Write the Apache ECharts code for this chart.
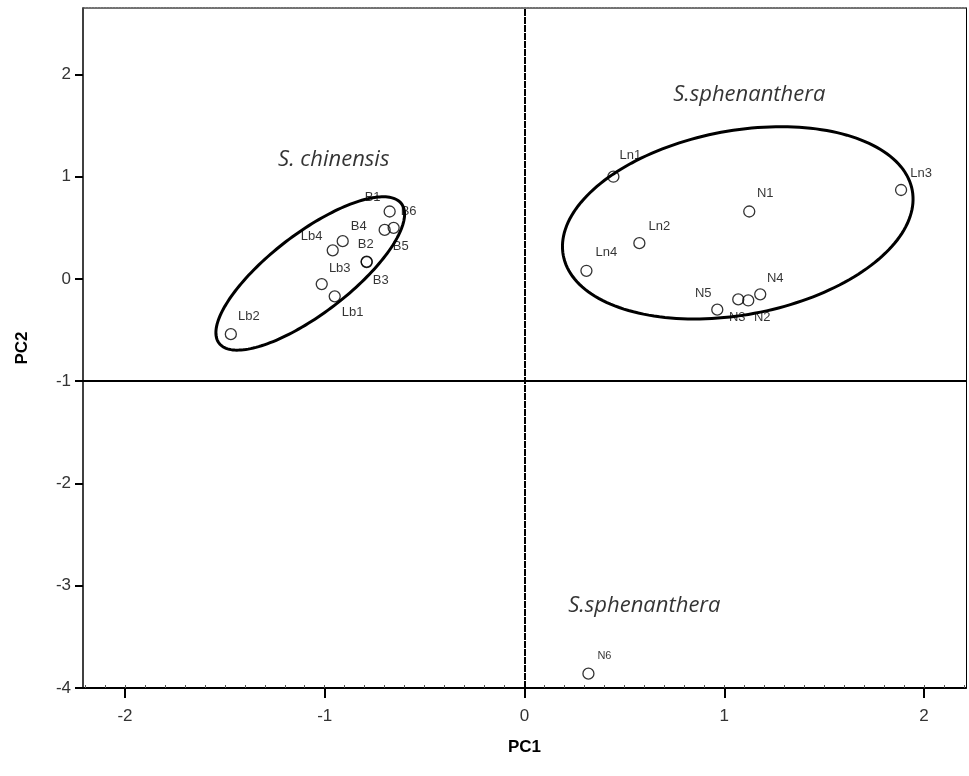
<!DOCTYPE html>
<html><head><meta charset="utf-8">
<script src="https://cdn.jsdelivr.net/npm/echarts@6/dist/echarts.min.js"></script>
<style>html,body{margin:0;padding:0;background:#fff}#c{width:969px;height:776px}</style>
</head><body><div id="c"></div>
<script>
// ---- data ----
const names = ['B1','B2','B3','B4','B5','B6','Lb1','Lb2','Lb3','Lb4','Ln1','Ln2','Ln3','Ln4','N1','N2','N3','N4','N5','N6'];
const pc1 = [-0.675,-0.79,-0.79,-0.91,-0.70,-0.655,-0.95,-1.47,-1.015,-0.96,0.445,0.575,1.885,0.31,1.125,1.12,1.07,1.18,0.965,0.32];
const pc2 = [0.66,0.17,0.165,0.37,0.48,0.50,-0.17,-0.54,-0.05,0.28,1.00,0.35,0.87,0.08,0.66,-0.21,-0.20,-0.15,-0.30,-3.86];
const xTicks = [-2,-1,0,1,2];
const yTicks = [-4,-3,-2,-1,0,1,2];
// group ellipses: centre, major half-axis vector, minor half-axis vector (data units)
const ellipseCenters = [[-1.0725,0.054],[1.0675,0.549]];
const ellipseMajor = [[0.4565,0.682],[0.8735,0.3176]];
const ellipseMinor = [[0.121,-0.312],[0.0836,-0.885]];
const groupNames = ['S. chinensis','S.sphenanthera','S.sphenanthera'];
const groupX = [-0.955,1.125,0.60];
const groupY = [1.17,1.80,-3.196];
const refX = 0, refY = -1;

// ---- styles (label offsets in px) ----
const labelOffset = {
  B1:[-17,-14],B2:[-1,-17],B3:[14,18],B4:[16,-15],B5:[16,17],B6:[15,-16],
  Lb1:[18,16],Lb2:[18,-18],Lb3:[18,-16],Lb4:[-21,-14],
  Ln1:[17,-21],Ln2:[20,-17],Ln3:[20,-17],Ln4:[20,-18],
  N1:[16,-18],N2:[14,17],N3:[-1,18],N4:[15,-16],N5:[-14,-16],N6:[16,-18]
};
const FONT = "'Liberation Sans', Arial, sans-serif";
const minorVals = [];
for (let i = -22; i <= 22; i++) minorVals.push(i / 10);

const points = names.map((n, i) => ({
  name: n, value: [pc1[i], pc2[i]],
  label: { offset: labelOffset[n], fontSize: n === 'N6' ? 11 : 13 }
}));

const chart = echarts.init(document.getElementById('c'), null, {renderer: 'canvas'});
chart.setOption({
  animation: false,
  backgroundColor: '#fff',
  grid: { left: 83, right: 3, top: 8, bottom: 88, show: false },
  xAxis: [{
    type: 'value', min: -2.21, max: 2.21,
    name: 'PC1', nameLocation: 'middle', nameGap: 51,
    nameTextStyle: { fontFamily: FONT, fontSize: 17, fontWeight: 'bold', color: '#000' },
    axisLine: { show: true, onZero: false, lineStyle: { color: '#000', width: 2 } },
    axisTick: { show: true, customValues: xTicks, length: 10, lineStyle: { color: '#000', width: 2 } },
    axisLabel: { customValues: xTicks, margin: 20, fontFamily: FONT, fontSize: 17, color: '#333' },
    splitLine: { show: false }
  }, {
    type: 'value', min: -2.21, max: 2.21, position: 'bottom',
    axisLine: { show: false, onZero: false }, axisLabel: { show: false },
    axisTick: { show: true, inside: true, customValues: minorVals, length: 3, lineStyle: { color: '#555', width: 1 } },
    splitLine: { show: false }
  }, {
    type: 'value', min: -2.21, max: 2.21, position: 'top',
    axisLine: { show: true, onZero: false, lineStyle: { color: '#444', width: 1.5, type: [2, 1] } },
    axisLabel: { show: false }, axisTick: { show: false }, splitLine: { show: false }
  }],
  yAxis: [{
    type: 'value', min: -4, max: 2.65,
    name: 'PC2', nameLocation: 'middle', nameGap: 52,
    nameTextStyle: { fontFamily: FONT, fontSize: 17, fontWeight: 'bold', color: '#000' },
    axisLine: { show: true, onZero: false, lineStyle: { color: '#000', width: 1.5 } },
    axisTick: { show: true, customValues: yTicks, length: 8, lineStyle: { color: '#000', width: 2 } },
    axisLabel: { customValues: yTicks, margin: 12, fontFamily: FONT, fontSize: 17, color: '#333' },
    splitLine: { show: false }
  }, {
    type: 'value', min: -4, max: 2.65, position: 'right',
    axisLine: { show: true, onZero: false, lineStyle: { color: '#000', width: 1 } },
    axisLabel: { show: false }, axisTick: { show: false }, splitLine: { show: false }
  }],
  series: [{
    type: 'custom',
    silent: true,
    data: ellipseCenters.map((c, i) => [c[0], c[1], ellipseMajor[i][0], ellipseMajor[i][1], ellipseMinor[i][0], ellipseMinor[i][1]]),
    renderItem: function (params, api) {
      const cx = api.value(0), cy = api.value(1);
      const ux = api.value(2), uy = api.value(3), vx = api.value(4), vy = api.value(5);
      const pts = [];
      for (let k = 0; k < 180; k++) {
        const t = k / 180 * Math.PI * 2;
        pts.push(api.coord([cx + ux * Math.cos(t) + vx * Math.sin(t), cy + uy * Math.cos(t) + vy * Math.sin(t)]));
      }
      return { type: 'polygon', shape: { points: pts }, style: { fill: 'none', stroke: '#000', lineWidth: 3 } };
    },
    z: 3
  }, {
    type: 'scatter',
    symbol: 'circle', symbolSize: 11,
    itemStyle: { color: 'rgba(255,255,255,0)', borderColor: '#000', borderWidth: 1.3 },
    label: { show: true, formatter: '{b}', position: 'inside', fontFamily: FONT, color: '#000' },
    data: points,
    markLine: {
      silent: true, symbol: 'none', label: { show: false },
      data: [
        { xAxis: refX, lineStyle: { color: '#000', width: 2, type: [7, 1] } },
        { yAxis: refY, lineStyle: { color: '#000', width: 2, type: 'solid' } }
      ]
    },
    z: 4
  }, {
    type: 'scatter', symbolSize: 0, silent: true,
    label: { show: true, formatter: '{b}', position: 'inside', fontFamily: "'Open Sans', sans-serif", fontStyle: 'italic', fontSize: 22, color: '#000' },
    data: groupNames.map((g, i) => ({ name: g, value: [groupX[i], groupY[i]] })),
    z: 5
  }]
});
</script></body></html>
